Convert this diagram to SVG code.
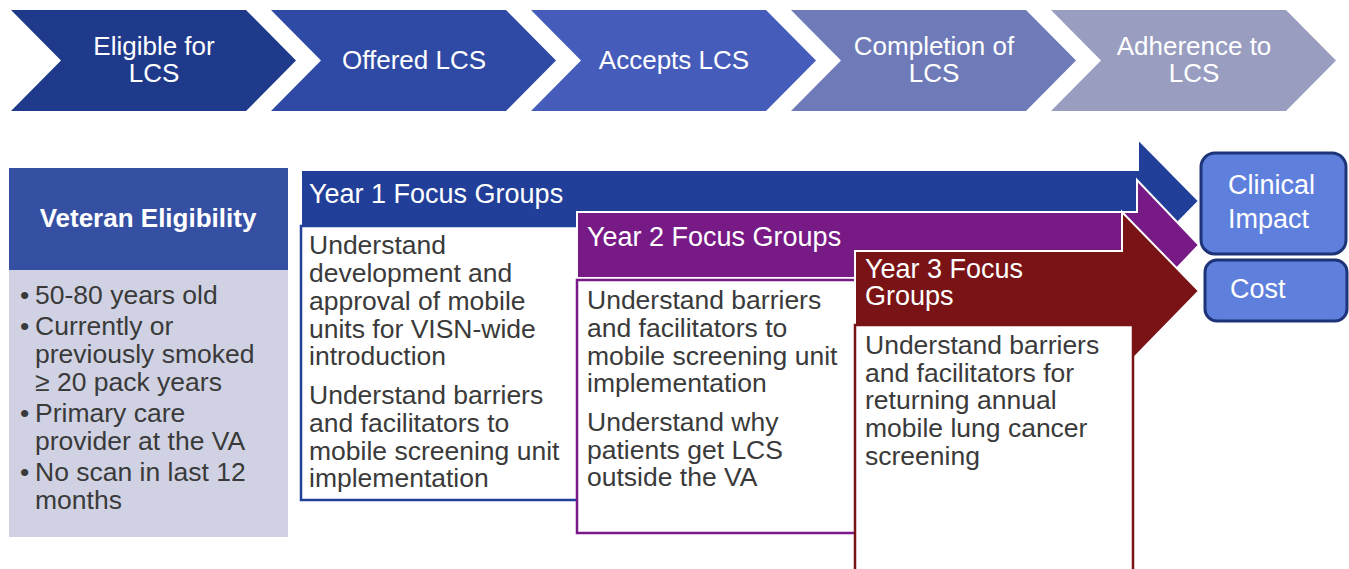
<svg xmlns="http://www.w3.org/2000/svg" width="1349" height="569" viewBox="0 0 1349 569">
<style>
text{font-family:"Liberation Sans",Arial,sans-serif;}
.chev{font-size:26px;fill:#ffffff;text-anchor:middle;}
.hdr{font-size:27px;fill:#ffffff;}
.vh{font-size:26px;fill:#ffffff;font-weight:bold;text-anchor:middle;}
.body{font-size:26.5px;fill:#3a3a3a;}
.box{fill:#ffffff;stroke-width:2.5;}
.arr{stroke:#ffffff;stroke-width:2;}
.out{fill:#5f7fdc;stroke:#1e3479;stroke-width:3;}
.outt{font-size:27px;fill:#ffffff;}
</style>
<rect width="1349" height="569" fill="#ffffff"/>
<g id="stages">
 <g id="stage-eligible">
  <polygon fill="#203a8b" points="11,10 246,10 296,60.5 246,111 11,111 61,60.5"/>
  <text class="chev" x="154" y="55">Eligible for</text>
  <text class="chev" x="154" y="82">LCS</text>
 </g>
 <g id="stage-offered">
  <polygon fill="#2f4aa5" points="271,10 506,10 556,60.5 506,111 271,111 321,60.5"/>
  <text class="chev" x="414" y="69">Offered LCS</text>
 </g>
 <g id="stage-accepts">
  <polygon fill="#465cba" points="531,10 766,10 816,60.5 766,111 531,111 581,60.5"/>
  <text class="chev" x="674" y="69">Accepts LCS</text>
 </g>
 <g id="stage-completion">
  <polygon fill="#6f7bb9" points="791,10 1026,10 1076,60.5 1026,111 791,111 841,60.5"/>
  <text class="chev" x="934" y="55">Completion of</text>
  <text class="chev" x="934" y="82">LCS</text>
 </g>
 <g id="stage-adherence">
  <polygon fill="#999dbf" points="1051,10 1286,10 1336,60.5 1286,111 1051,111 1101,60.5"/>
  <text class="chev" x="1194" y="55">Adherence to</text>
  <text class="chev" x="1194" y="82">LCS</text>
 </g>
</g>
<g id="veteran-eligibility">
 <rect x="9" y="168" width="279" height="102" fill="#3550a3"/>
 <rect x="9" y="270" width="279" height="267" fill="#d0d2e3"/>
 <text class="vh" x="148" y="227">Veteran Eligibility</text>
 <text class="body" x="20" y="304">•</text><text class="body" x="35" y="304">50-80 years old</text>
 <text class="body" x="20" y="335">•</text><text class="body" x="35" y="335">Currently or</text>
 <text class="body" x="35" y="363">previously smoked</text>
 <text class="body" x="35" y="391">≥ 20 pack years</text>
 <text class="body" x="20" y="422">•</text><text class="body" x="35" y="422">Primary care</text>
 <text class="body" x="35" y="450">provider at the VA</text>
 <text class="body" x="20" y="481">•</text><text class="body" x="35" y="481">No scan in last 12</text>
 <text class="body" x="35" y="509">months</text>
</g>
<g id="connectors">
</g>
<g id="year1">
 <polygon class="arr" fill="#213f99" points="301,170 1138,170 1138,139 1199,201 1138,263 1138,232 301,232"/>
 <text class="hdr" x="309" y="203">Year 1 Focus Groups</text>
 <rect class="box" x="301" y="226" width="279" height="274" stroke="#21409a"/>
 <text class="body" x="309" y="254">Understand</text>
 <text class="body" x="309" y="282">development and</text>
 <text class="body" x="309" y="310">approval of mobile</text>
 <text class="body" x="309" y="338">units for VISN-wide</text>
 <text class="body" x="309" y="365">introduction</text>
 <text class="body" x="309" y="404">Understand barriers</text>
 <text class="body" x="309" y="432">and facilitators to</text>
 <text class="body" x="309" y="460">mobile screening unit</text>
 <text class="body" x="309" y="487">implementation</text>
</g>
<g id="year2">
 <polygon class="arr" fill="#781a86" points="577,212 1137,212 1137,180 1199,245 1137,310 1137,278 577,278"/>
 <text class="hdr" x="587" y="246">Year 2 Focus Groups</text>
 <rect class="box" x="577" y="280" width="281" height="253" stroke="#7a1a88"/>
 <text class="body" x="587" y="309">Understand barriers</text>
 <text class="body" x="587" y="337">and facilitators to</text>
 <text class="body" x="587" y="365">mobile screening unit</text>
 <text class="body" x="587" y="392">implementation</text>
 <text class="body" x="587" y="431">Understand why</text>
 <text class="body" x="587" y="459">patients get LCS</text>
 <text class="body" x="587" y="486">outside the VA</text>
</g>
<g id="year3">
 <polygon class="arr" fill="#7a1315" points="855,251 1122,251 1122,212 1199,291 1122,370 1122,331 855,331"/>
 <text class="hdr" x="865" y="278">Year 3 Focus</text>
 <text class="hdr" x="865" y="305">Groups</text>
 <rect class="box" x="855" y="325" width="278" height="260" stroke="#7a1315"/>
 <text class="body" x="865" y="354">Understand barriers</text>
 <text class="body" x="865" y="382">and facilitators for</text>
 <text class="body" x="865" y="409">returning annual</text>
 <text class="body" x="865" y="437">mobile lung cancer</text>
 <text class="body" x="865" y="465">screening</text>
</g>
<g id="clinical-impact">
 <rect class="out" x="1201" y="153" width="145" height="101" rx="14"/>
 <text class="outt" x="1228" y="194">Clinical</text>
 <text class="outt" x="1228" y="228">Impact</text>
</g>
<g id="cost">
 <rect class="out" x="1205" y="260" width="142" height="61" rx="12"/>
 <text class="outt" x="1230" y="298">Cost</text>
</g>
</svg>
